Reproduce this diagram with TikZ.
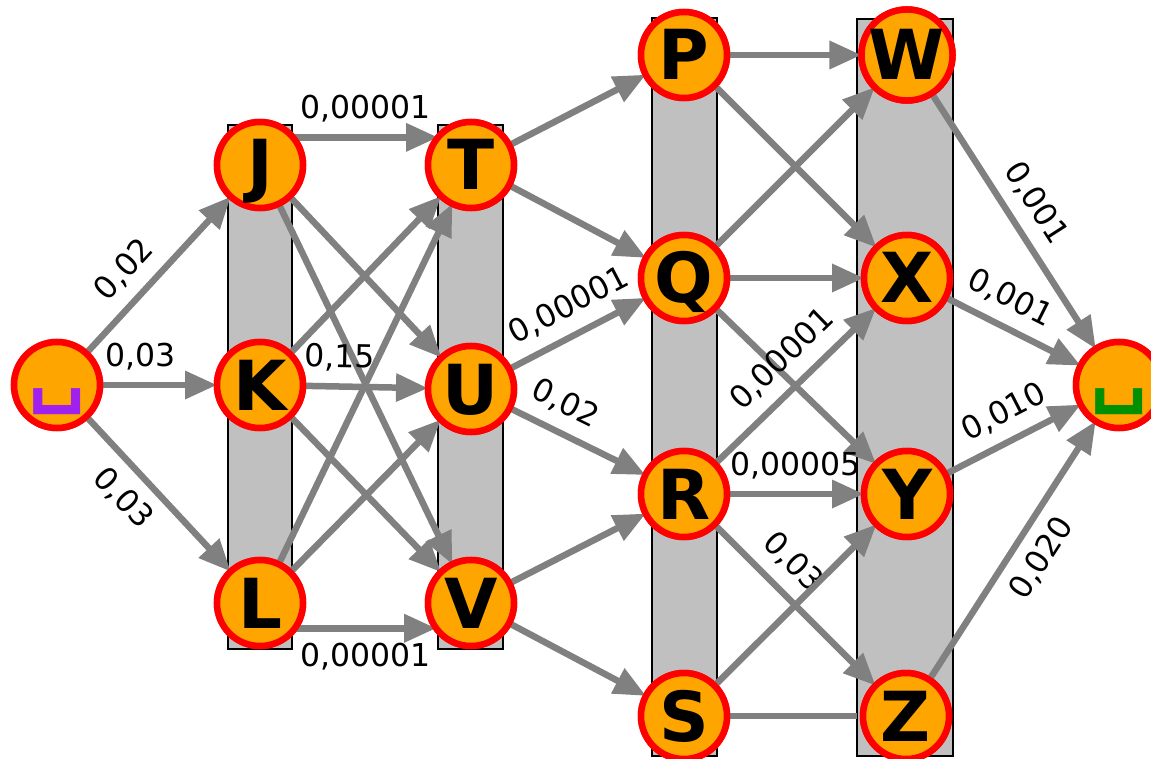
\documentclass[tikz,border=0pt]{standalone}
\usepackage{fontspec}
\setmainfont{DejaVu Sans}
\usetikzlibrary{arrows.meta}
\definecolor{nodeor}{HTML}{FFA500}
\definecolor{edgegray}{HTML}{808080}
\definecolor{bandgray}{HTML}{C0C0C0}
\definecolor{startpurple}{HTML}{A020F0}
\definecolor{endgreen}{HTML}{009000}
\newcommand{\opensp}[1]{\raisebox{14pt}{\fontsize{80}{90}\selectfont\bfseries\color{#1}␣}}
\begin{document}
\begin{tikzpicture}[x=1pt,y=-1pt,
  st/.style={circle, draw=red, line width=6.5pt, fill=nodeor, minimum size=86pt,
    inner sep=0pt, outer sep=0pt, font=\fontsize{69}{80}\selectfont\bfseries,
    text height=50pt, text depth=0pt},
  edge/.style={draw=edgegray, line width=6.5pt, -{Triangle[length=32pt,width=27pt]}},
  plainedge/.style={draw=edgegray, line width=6.5pt},
  lab/.style={font=\fontsize{31.5}{36}\selectfont, inner sep=2pt, sloped},
  band/.style={fill=bandgray, draw=black, line width=2.5pt}]
\useasboundingbox (0,0) rectangle (1151,759);
% bands
\filldraw[band] (228,125) rectangle (292,649);
\filldraw[band] (438,125) rectangle (503,649);
\filldraw[band] (652,18) rectangle (717,756);
\filldraw[band] (857,19) rectangle (953,756);
% node positions
\coordinate (ps) at (57,385);
\coordinate (pJ) at (260,165);
\coordinate (pK) at (260,385);
\coordinate (pL) at (260,603);
\coordinate (pT) at (471,165);
\coordinate (pU) at (471,389);
\coordinate (pV) at (471,603);
\coordinate (pP) at (684,55);
\coordinate (pQ) at (684,278);
\coordinate (pR) at (684,494);
\coordinate (pS) at (684,716);
\coordinate (pW) at (907,55);
\coordinate (pX) at (907,278);
\coordinate (pY) at (907,494);
\coordinate (pZ) at (906,716);
\coordinate (pe) at (1119,385);
% nodes (named; redrawn on top of the edges below)
\path (ps) node[st] (s) {\opensp{startpurple}};
\path (pJ) node[st] (J) {J};
\path (pK) node[st] (K) {K};
\path (pL) node[st] (L) {L};
\path (pT) node[st] (T) {T};
\path (pU) node[st] (U) {U};
\path (pV) node[st] (V) {V};
\path (pP) node[st] (P) {P};
\path (pQ) node[st] (Q) {Q};
\path (pR) node[st] (R) {R};
\path (pS) node[st] (S) {S};
\path (pW) node[st] (W) {W};
\path (pX) node[st] (X) {X};
\path (pY) node[st] (Y) {Y};
\path (pZ) node[st] (Z) {Z};
\path (pe) node[st] (e) {\opensp{endgreen}};
\coordinate (zin) at (857,716);
% edges
\draw[edge] (s) -- node[lab, above=10pt, pos=.41] {0,02} (J);
\draw[edge] (s) -- node[lab, above=10pt, pos=.35] {0,03} (K);
\draw[edge] (s) -- node[lab, below=10pt, pos=.40] {0,03} (L);
\draw[edge] (J.40) -- node[lab, above=10pt, pos=.5] {0,00001} (T.140);
\draw[edge] (J) -- (U);
\draw[edge] (J) -- (V);
\draw[edge] (K) -- (T);
\draw[edge] (K) -- node[lab, above=10pt, pos=.29] {0,15} (U);
\draw[edge] (K) -- (V);
\draw[edge] (L) -- (T);
\draw[edge] (L) -- (U);
\draw[edge] (L.-36) -- node[lab, below=10pt, pos=.5] {0,00001} (V.-144);
\draw[edge] (T) -- (P);
\draw[edge] (T) -- (Q);
\draw[edge] (U) -- node[lab, above=10pt, pos=.535] {0,00001} (Q);
\draw[edge] (U) -- node[lab, above=10pt, pos=.32] {0,02} (R);
\draw[edge] (V) -- (R);
\draw[edge] (V) -- (S);
\draw[edge] (P) -- (W);
\draw[edge] (P) -- (X);
\draw[edge] (Q) -- (W);
\draw[edge] (Q) -- (X);
\draw[edge] (Q) -- (Y);
\draw[edge] (R) -- node[lab, above=10pt, pos=.54] {0,00001} (X);
\draw[edge] (R) -- node[lab, above=10pt, pos=.5] {0,00005} (Y);
\draw[edge] (R) -- node[lab, above=10pt, pos=.36] {0,03} (Z);
\draw[edge] (S) -- (Y);
\draw[plainedge] (S) -- (zin);
\draw[edge] (W) -- node[lab, above=10pt, pos=.49] {0,001} (e);
\draw[edge] (X) -- node[lab, above=10pt, pos=.385] {0,001} (e);
\draw[edge] (Y) -- node[lab, above=10pt, pos=.53] {0,010} (e);
\draw[edge] (Z) -- node[lab, below=10pt, pos=.53] {0,020} (e);
% nodes on top
\path (ps) node[st] {\opensp{startpurple}};
\path (pJ) node[st] {J};
\path (pK) node[st] {K};
\path (pL) node[st] {L};
\path (pT) node[st] {T};
\path (pU) node[st] {U};
\path (pV) node[st] {V};
\path (pP) node[st] {P};
\path (pQ) node[st] {Q};
\path (pR) node[st] {R};
\path (pS) node[st] {S};
\path (pW) node[st] {W};
\path (pX) node[st] {X};
\path (pY) node[st] {Y};
\path (pZ) node[st] {Z};
\path (pe) node[st] {\opensp{endgreen}};
\end{tikzpicture}
\end{document}
